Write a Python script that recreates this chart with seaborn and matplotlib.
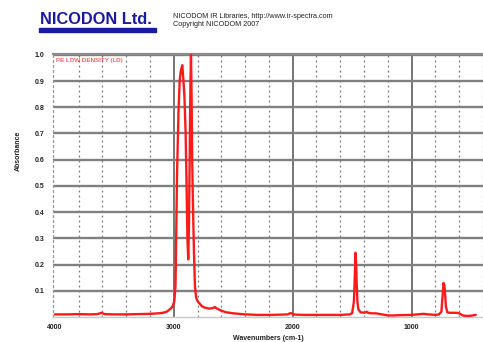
import numpy as np
import pandas as pd
import matplotlib
matplotlib.use("Agg")
import matplotlib.pyplot as plt
from matplotlib.ticker import MultipleLocator, FixedLocator
import seaborn as sns

# ---- data (wavenumber cm-1, absorbance) ----
wavenumber = [4000, 3900, 3800, 3700, 3640, 3610, 3580, 3500, 3400, 3300, 3200, 3100,
              3060, 3030, 3010, 2995, 2985, 2978, 2972, 2960, 2950, 2940, 2928, 2918,
              2910, 2900, 2892, 2885, 2878, 2872, 2866, 2860, 2855, 2850, 2845, 2838,
              2830, 2822, 2812, 2800, 2780, 2760, 2740, 2720, 2700, 2670, 2655, 2640,
              2600, 2560, 2500, 2450, 2400, 2350, 2300, 2200, 2100, 2040, 2020, 2000,
              1980, 1900, 1800, 1700, 1600, 1520, 1500, 1485, 1478, 1472, 1466, 1462,
              1456, 1448, 1430, 1400, 1378, 1365, 1340, 1300, 1250, 1200, 1150, 1100,
              1000, 950, 900, 860, 800, 770, 750, 740, 732, 724, 719, 712, 700, 680,
              620, 600, 570, 540, 500, 460]
absorbance = [0.010, 0.010, 0.011, 0.010, 0.011, 0.016, 0.011, 0.010, 0.010, 0.011, 0.012, 0.015,
              0.020, 0.030, 0.040, 0.060, 0.12, 0.35, 0.55, 0.78, 0.90, 0.94, 0.96, 0.90,
              0.84, 0.70, 0.50, 0.30, 0.22, 0.35, 0.60, 0.88, 1.00, 0.85, 0.60, 0.42,
              0.25, 0.12, 0.075, 0.060, 0.050, 0.040, 0.036, 0.034, 0.032, 0.034, 0.038, 0.033,
              0.024, 0.018, 0.014, 0.012, 0.010, 0.009, 0.008, 0.008, 0.009, 0.010, 0.015, 0.012,
              0.009, 0.008, 0.008, 0.008, 0.008, 0.010, 0.015, 0.06, 0.15, 0.245, 0.20, 0.13,
              0.06, 0.03, 0.018, 0.016, 0.020, 0.016, 0.014, 0.014, 0.010, 0.006, 0.006, 0.007,
              0.008, 0.010, 0.012, 0.010, 0.008, 0.010, 0.020, 0.08, 0.13, 0.12, 0.09, 0.04, 0.018, 0.016,
              0.016, 0.014, 0.006, 0.004, 0.005, 0.008]

y_ticks = [0.1, 0.2, 0.3, 0.4, 0.5, 0.6, 0.7, 0.8, 0.9, 1.0]
y_tick_labels = ["0.1", "0.2", "0.3", "0.4", "0.5", "0.6", "0.7", "0.8", "0.9", "1.0"]
x_ticks = [4000, 3000, 2000, 1000]
x_tick_labels = ["4000", "3000", "2000", "1000"]

sample_name = "PE LOW DENSITY (LD)"
company = "NICODON Ltd."
header1 = "NICODOM IR Libraries, http://www.ir-spectra.com"
header2 = "Copyright NICODOM 2007"

df = pd.DataFrame({"Wavenumber": wavenumber, "Absorbance": absorbance})

sns.set_style("white")
plt.rcParams["font.family"] = ["Liberation Sans", "DejaVu Sans"]

W, H = 483, 342
fig = plt.figure(figsize=(W / 100, H / 100), dpi=100)
ax = fig.add_axes([53 / W, (H - 317) / H, (W - 53) / W, 263 / H])

sns.lineplot(data=df, x="Wavenumber", y="Absorbance", ax=ax, color="#ff1a1a",
             linewidth=1.7, sort=False, estimator=None, zorder=5)

ax.set_xlim(4015, 400)
ax.set_ylim(0, 1.003)

ax.xaxis.set_major_locator(FixedLocator(x_ticks))
ax.set_xticklabels(x_tick_labels)
ax.xaxis.set_minor_locator(MultipleLocator(200))
ax.set_yticks(y_ticks)
ax.set_yticklabels(y_tick_labels)

ax.grid(False)
ax.grid(True, axis="y", which="major", color="#808080", linewidth=1.7)
ax.grid(True, axis="x", which="major", color="#505050", linewidth=1.1)
ax.grid(True, axis="x", which="minor", color="#777777", linewidth=0.9,
        linestyle=(0, (1.5, 2.5)))
ax.get_xgridlines()[0].set_visible(False)

ax.spines["right"].set_visible(False)
ax.spines["top"].set_color("#8c8c8c")
ax.spines["top"].set_linewidth(1.6)
ax.spines["bottom"].set_color("#c8c8c8")
ax.spines["bottom"].set_linewidth(1.0)
ax.spines["left"].set_color("#999999")
ax.spines["left"].set_linewidth(0.9)
ax.spines["left"].set_linestyle((0, (1.5, 2.5)))

ax.tick_params(axis="y", which="major", length=3, width=1.4, color="#8c8c8c",
               labelsize=5, pad=3, labelcolor="#222222")
ax.tick_params(axis="x", which="major", length=3, width=1.0, color="#555555",
               labelsize=5, pad=2, labelcolor="#222222")
ax.tick_params(axis="x", which="minor", length=0)
for lab in ax.get_yticklabels() + ax.get_xticklabels():
    lab.set_fontweight("bold")

ax.set_xlabel("")
ax.set_ylabel("")
fig.text(268 / W, 1 - 339 / H, "Wavenumbers (cm-1)", fontsize=5, ha="center",
         va="center", color="#222222", fontweight="bold")
fig.text(18 / W, 1 - 151 / H, "Absorbance", fontsize=5, ha="center", va="center",
         rotation=90, color="#222222", fontweight="bold")

ax.text(0.006, 0.985, sample_name, transform=ax.transAxes, fontsize=4.5,
        color="#ff2020", ha="left", va="top", zorder=6)

fig.text(40 / W, 1 - 19 / H, company, fontsize=11.8, fontweight="bold",
         color="#1a1aa0", ha="left", va="center")
fig.patches.append(plt.Rectangle((39 / W, 1 - 32 / H), 117 / W, 4 / H,
                                 transform=fig.transFigure, color="#1a1aa0"))
fig.text(173 / W, 1 - 16.5 / H, header1, fontsize=5.2, ha="left", va="center",
         color="#222222")
fig.text(173 / W, 1 - 24.5 / H, header2, fontsize=5.2, ha="left", va="center",
         color="#222222")

fig.savefig("out.png", dpi=100)
